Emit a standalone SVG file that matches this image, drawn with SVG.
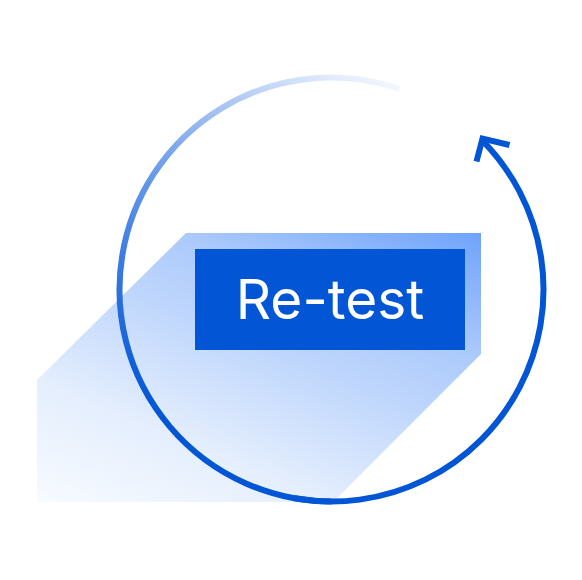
<svg xmlns="http://www.w3.org/2000/svg" width="582" height="580" viewBox="0 0 582 580">
  <defs>
    <linearGradient id="shadowGrad" gradientUnits="userSpaceOnUse" x1="481" y1="233" x2="323" y2="619">
      <stop offset="0" stop-color="#6ea3fb"/>
      <stop offset="0.27" stop-color="#aac9fb"/>
      <stop offset="0.46" stop-color="#c0d7fc"/>
      <stop offset="0.73" stop-color="#e4eefd"/>
      <stop offset="1" stop-color="#f8fbff"/>
    </linearGradient>
    <linearGradient id="ringGrad" gradientUnits="userSpaceOnUse" x1="420" y1="80" x2="200" y2="440">
      <stop offset="0" stop-color="#ffffff"/>
      <stop offset="0.5" stop-color="#6d9dec"/>
      <stop offset="1" stop-color="#0256d6"/>
    </linearGradient>
    <style>
      .ring { fill: none; stroke-width: 6; }
      .arrow { fill: none; stroke: #0256d6; stroke-width: 6; stroke-linejoin: miter; stroke-linecap: butt; }
      .label { font-family: Inter, "Liberation Sans", sans-serif; font-size: 55px; fill: #ffffff; }
    </style>
  </defs>
  <g id="shadow">
    <polygon points="37,380 186,233 481,233 481,354 333,502 37,502" fill="url(#shadowGrad)"/>
  </g>
  <g id="connectors">
    <path class="ring" stroke="url(#ringGrad)" d="M 399.8,88.8 A 212,212 0 1 0 331.5,501.5"/>
    <path class="ring" stroke="#0256d6" d="M 294.7,498.3 A 212,212 0 0 0 481.4,139.6"/>
    <polyline class="arrow" points="476.5,161.5 482.5,138.5 509.5,145"/>
  </g>
  <g id="retest">
    <rect x="195" y="249" width="270" height="101" fill="#0256d6"/>
    <text class="label" x="330" y="319" text-anchor="middle">Re-test</text>
  </g>
</svg>
